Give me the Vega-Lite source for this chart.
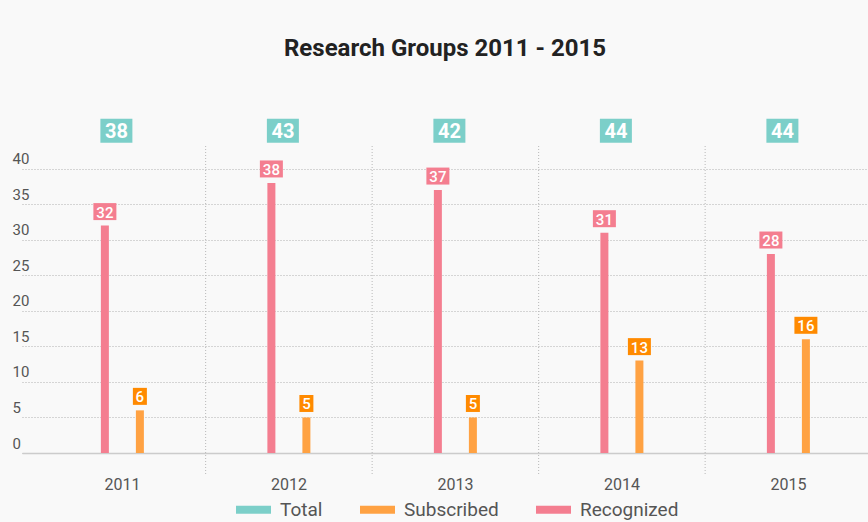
{
  "$schema": "https://vega.github.io/schema/vega-lite/v6.json",
  "width": 846,
  "height": 307,
  "autosize": {"type": "none"},
  "padding": {"left": 22, "top": 146, "right": 0, "bottom": 69},
  "background": "#f9f9f9",
  "title": {"text": "Research Groups 2011 - 2015", "font": "Roboto", "fontSize": 24, "fontWeight": "bold", "color": "#222222", "anchor": "middle", "offset": 58},
  "config": {"view": {"stroke": null}, "font": "Roboto"},
  "data": {"values": [
    {"year": "2011", "series": "Recognized", "value": 32},
    {"year": "2011", "series": "Subscribed", "value": 6},
    {"year": "2011", "series": "Total", "value": 38},
    {"year": "2012", "series": "Recognized", "value": 38},
    {"year": "2012", "series": "Subscribed", "value": 5},
    {"year": "2012", "series": "Total", "value": 43},
    {"year": "2013", "series": "Recognized", "value": 37},
    {"year": "2013", "series": "Subscribed", "value": 5},
    {"year": "2013", "series": "Total", "value": 42},
    {"year": "2014", "series": "Recognized", "value": 31},
    {"year": "2014", "series": "Subscribed", "value": 13},
    {"year": "2014", "series": "Total", "value": 44},
    {"year": "2015", "series": "Recognized", "value": 28},
    {"year": "2015", "series": "Subscribed", "value": 16},
    {"year": "2015", "series": "Total", "value": 44}
  ]},
  "layer": [
    {
      "transform": [{"filter": "datum.series !== 'Total'"}],
      "mark": {"type": "bar", "width": 8},
      "encoding": {
        "x": {
          "field": "year", "type": "ordinal",
          "scale": {"paddingInner": 0.159, "paddingOuter": 0.12, "align": 0.76},
          "axis": {"title": null, "labelAngle": 0, "labelFontSize": 16, "labelColor": "#555555", "labelPadding": 23, "ticks": false, "tickSize": 0, "domain": true, "domainColor": "#cccccc", "domainWidth": 1.5, "grid": false}
        },
        "xOffset": {"field": "series", "type": "nominal", "scale": {"domain": ["Recognized", "Subscribed"], "paddingInner": 0, "paddingOuter": 1}},
        "y": {
          "field": "value", "type": "quantitative",
          "scale": {"domain": [0, 43.2], "nice": false, "zero": true},
          "axis": {"title": null, "values": [0, 5, 10, 15, 20, 25, 30, 35, 40], "tickCount": 9, "labelOverlap": false, "grid": true, "gridDash": [1, 2], "gridColor": "#b0b0b0", "domain": false, "ticks": false, "tickSize": 0, "labelAlign": "left", "labelPadding": 10, "labelOffset": -5, "labelBaseline": "alphabetic", "labelColor": "#555555", "labelFontSize": 15}
        },
        "color": {
          "field": "series", "type": "nominal",
          "scale": {"domain": ["Total", "Subscribed", "Recognized"], "range": ["#7ccfc9", "#ffa243", "#f47e90"]},
          "legend": {"title": null, "orient": "none", "legendX": 214, "legendY": 346, "direction": "horizontal", "symbolType": "M-1,-0.229H1V0.229H-1Z", "symbolSize": 1225, "symbolStrokeWidth": 0, "labelFontSize": 19, "labelColor": "#555555", "labelOffset": 9, "columnPadding": 37}
        }
      }
    },
    {
      "transform": [{"filter": "datum.series === 'Total' && datum.year !== '2011'"}],
      "mark": {"type": "rule", "stroke": "#b8b8b8", "strokeDash": [1, 2], "strokeWidth": 1},
      "encoding": {
        "x": {"field": "year", "type": "ordinal", "bandPosition": -0.0946},
        "y": {"datum": 43.2},
        "y2": {"datum": -3.1}
      }
    },
    {
      "transform": [{"filter": "datum.series !== 'Total'"}],
      "mark": {"type": "point", "filled": true, "opacity": 1, "size": 529, "yOffset": -14, "strokeWidth": 0},
      "encoding": {
        "x": {"field": "year", "type": "ordinal"},
        "xOffset": {"field": "series", "type": "nominal"},
        "y": {"field": "value", "type": "quantitative"},
        "shape": {"condition": {"test": "datum.value < 10", "value": "M-0.609,-0.739H0.609V0.739H-0.609Z"}, "value": "M-1,-0.739H1V0.739H-1Z"},
        "fill": {"condition": {"test": "datum.series === 'Subscribed'", "value": "#ff8a00"}, "value": "#f47e90"}
      }
    },
    {
      "transform": [{"filter": "datum.series !== 'Total'"}],
      "mark": {"type": "text", "color": "#ffffff", "fontSize": 15, "fontWeight": 500, "baseline": "middle", "align": "center", "yOffset": -13},
      "encoding": {
        "x": {"field": "year", "type": "ordinal"},
        "xOffset": {"field": "series", "type": "nominal"},
        "y": {"field": "value", "type": "quantitative"},
        "text": {"field": "value", "type": "quantitative"}
      }
    },
    {
      "transform": [{"filter": "datum.series === 'Total'"}],
      "mark": {"type": "point", "filled": true, "opacity": 1, "size": 1024, "xOffset": -6, "strokeWidth": 0, "shape": "M-1,-0.75H1V0.75H-1Z", "fill": "#7ccfc9"},
      "encoding": {
        "x": {"field": "year", "type": "ordinal"},
        "y": {"datum": 45.35}
      }
    },
    {
      "transform": [{"filter": "datum.series === 'Total'"}],
      "mark": {"type": "text", "color": "#ffffff", "fontSize": 20, "fontWeight": "bold", "baseline": "middle", "align": "center", "xOffset": -6, "yOffset": 1},
      "encoding": {
        "x": {"field": "year", "type": "ordinal"},
        "y": {"datum": 45.35},
        "text": {"field": "value", "type": "quantitative"}
      }
    }
  ]
}
